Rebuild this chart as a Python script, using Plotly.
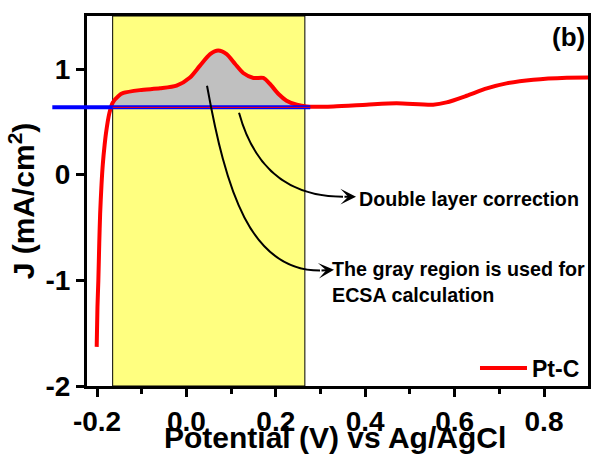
import plotly.graph_objects as go

# ---------------- data ----------------
potential = [-0.2007, -0.199, -0.197, -0.195, -0.193, -0.190, -0.187, -0.183, -0.180,
             -0.1725, -0.165, -0.152, -0.141, -0.104, -0.059, -0.022, 0.008, 0.030,
             0.053, 0.071, 0.090, 0.109, 0.127, 0.150, 0.172, 0.187, 0.206, 0.224,
             0.247, 0.269, 0.329, 0.403, 0.470, 0.552, 0.582, 0.627, 0.672, 0.716,
             0.776, 0.851, 0.903]
current = [-1.63, -1.25, -1.0, -0.65, -0.37, -0.10, 0.10, 0.28, 0.39,
           0.58, 0.68, 0.745, 0.773, 0.80, 0.817, 0.842, 0.92, 1.03,
           1.14, 1.175, 1.14, 1.047, 0.962, 0.915, 0.915, 0.858, 0.763, 0.70,
           0.662, 0.645, 0.646, 0.662, 0.675, 0.662, 0.684, 0.747, 0.817, 0.864,
           0.899, 0.918, 0.92]

baseline_x = [-0.30, 0.277]      # double-layer correction line
baseline_y = 0.637
window = [-0.165, 0.265]         # yellow integration window
series_name = "Pt-C"

x_range = [-0.2224, 0.8984]
y_range = [-2.0, 1.5016]
x_ticks = [-0.2, 0.0, 0.2, 0.4, 0.6, 0.8]
x_ticklabels = ["-0.2", "0.0", "0.2", "0.4", "0.6", "0.8"]
y_ticks = [-2, -1, 0, 1]
y_ticklabels = ["-2", "-1", "0", "1"]
x_title = "Potential (V) vs Ag/AgCl"
y_title = "J (mA/cm<sup>2</sup>)"

# annotation arrows (data coordinates)
arrow1 = dict(p0=(0.1177, 0.5866), c=(0.1691, -0.208), p2=(0.3503, -0.208), tip=(0.3794, -0.208))
arrow2 = dict(p0=(0.0461, 0.842), c1=(0.0886, -0.151), c2=(0.1423, -0.908),
              p3=(0.2989, -0.908), tip=(0.3302, -0.899))
label1 = dict(x=0.3815, y=-0.227, text="Double layer correction")
label2 = dict(x=0.321, y=-1.012, text="The gray region is used for<br>ECSA calculation")

FONT = "Arial, Liberation Sans, sans-serif"

# --- gray area: red curve inside window vs baseline
in_win = [(x, y) for x, y in zip(potential, current) if window[0] - 0.003 <= x <= baseline_x[1]]
fill_x = [p[0] for p in in_win]
fill_y = [max(p[1], baseline_y) for p in in_win]

fig = go.Figure()
fig.add_trace(go.Scatter(x=[fill_x[0], fill_x[-1]], y=[baseline_y, baseline_y], mode="lines",
                         line=dict(width=0, color="rgba(0,0,0,0)"), showlegend=False, hoverinfo="skip"))
fig.add_trace(go.Scatter(x=fill_x, y=fill_y, mode="lines", fill="tonexty",
                         fillcolor="#C0C0C0", line=dict(width=0, shape="spline", smoothing=0.7,
                                                        color="rgba(0,0,0,0)"),
                         showlegend=False, hoverinfo="skip"))
fig.add_trace(go.Scatter(x=potential, y=current, mode="lines", name=series_name,
                         line=dict(color="#FF0000", width=4, shape="spline", smoothing=0.7)))
fig.add_trace(go.Scatter(x=baseline_x, y=[baseline_y, baseline_y], mode="lines",
                         line=dict(color="#0000FF", width=4), showlegend=False))
fig.add_trace(go.Scatter(x=[window[0], baseline_x[1]], y=[baseline_y, baseline_y], mode="lines",
                         line=dict(color="#FF0000", width=1), showlegend=False))

# part of the baseline that runs past the left axis (traces are clipped to the plot area)
span = x_range[1] - x_range[0]
stub_x0 = (baseline_x[0] - x_range[0]) / span

shapes = [
    dict(type="rect", xref="x", yref="paper", x0=window[0], x1=window[1], y0=0, y1=1,
         fillcolor="#FFFF80", line=dict(color="black", width=1), layer="below"),
    dict(type="line", xref="x domain", yref="y", x0=stub_x0, x1=0.0, y0=baseline_y, y1=baseline_y,
         line=dict(color="#0000FF", width=4), layer="above"),
    dict(type="path", xref="x", yref="y",
         path="M {},{} Q {},{} {},{}".format(*arrow1["p0"], *arrow1["c"], *arrow1["p2"]),
         line=dict(color="black", width=2)),
    dict(type="path", xref="x", yref="y",
         path="M {},{} C {},{} {},{} {},{}".format(*arrow2["p0"], *arrow2["c1"], *arrow2["c2"], *arrow2["p3"]),
         line=dict(color="black", width=2)),
]

ann_font = dict(family=FONT, size=19.7, color="black", weight="bold")
annotations = [
    dict(x=arrow1["tip"][0], y=arrow1["tip"][1], ax=arrow1["p2"][0], ay=arrow1["p2"][1],
         xref="x", yref="y", axref="x", ayref="y", text="", showarrow=True,
         arrowhead=3, arrowsize=1.3, arrowwidth=2, arrowcolor="black"),
    dict(x=arrow2["tip"][0], y=arrow2["tip"][1], ax=arrow2["p3"][0], ay=arrow2["p3"][1],
         xref="x", yref="y", axref="x", ayref="y", text="", showarrow=True,
         arrowhead=3, arrowsize=1.3, arrowwidth=2, arrowcolor="black"),
    dict(x=label1["x"], y=label1["y"], xref="x", yref="y", text=label1["text"],
         showarrow=False, xanchor="left", yanchor="middle", font=ann_font),
    dict(x=label2["x"], y=label2["y"], xref="x", yref="y", text=label2["text"],
         showarrow=False, xanchor="left", yanchor="middle", align="left", font=ann_font),
    dict(x=0.998, y=0.943, xref="paper", yref="paper", text="(b)", showarrow=False,
         xanchor="right", yanchor="middle", font=dict(family=FONT, size=26, color="black", weight="bold")),
    # x-axis title
    dict(x=0.495, y=-0.1405, xref="paper", yref="paper", text=x_title, showarrow=False,
         xanchor="center", yanchor="middle", font=dict(family=FONT, size=30, color="black", weight="bold")),
]

fig.update_layout(
    width=592, height=455,
    margin=dict(l=87, r=4, t=16, b=69),
    paper_bgcolor="white", plot_bgcolor="white",
    shapes=shapes, annotations=annotations,
    showlegend=True,
    legend=dict(x=0.994, y=0.0486, xanchor="right", yanchor="middle",
                bgcolor="rgba(0,0,0,0)", itemwidth=47,
                font=dict(family=FONT, size=23, color="black", weight="bold")),
    xaxis=dict(range=x_range, tickvals=x_ticks, ticktext=x_ticklabels, automargin=False,
               showline=True, linecolor="black", linewidth=3, mirror=True,
               ticks="outside", ticklen=8, tickwidth=3, tickcolor="black",
               minor=dict(dtick=0.1, tick0=0, ticks="outside", ticklen=5, tickwidth=3,
                          tickcolor="black", showgrid=False),
               showgrid=False, zeroline=False,
               tickfont=dict(family=FONT, size=28, color="black", weight="bold")),
    yaxis=dict(range=y_range, tickvals=y_ticks, ticktext=y_ticklabels, automargin=False,
               showline=True, linecolor="black", linewidth=3, mirror=True,
               ticks="outside", ticklen=8, tickwidth=3, tickcolor="black",
               showgrid=False, zeroline=False,
               tickfont=dict(family=FONT, size=28, color="black", weight="bold"),
               title=dict(text=y_title, standoff=2,
                          font=dict(family=FONT, size=30, color="black", weight="bold"))),
)

fig.write_html("out.html")
